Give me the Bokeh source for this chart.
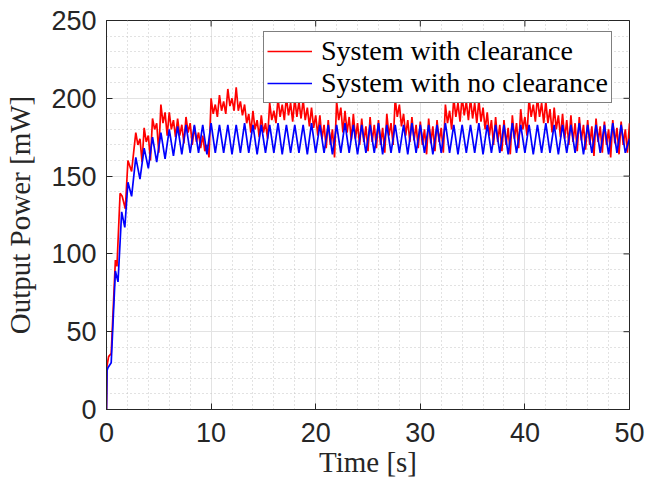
import numpy as np
from bokeh.plotting import figure
from bokeh.models import Range1d, Legend, LegendItem, FixedTicker
from bokeh.embed import file_html
from bokeh.resources import INLINE

# ---- data (output power in mW vs. time in s) ----
# start-up transient, irregular sample times
blue_t_early = [0.0, 0.05, 0.15, 0.45, 0.85, 1.1, 1.45, 1.75, 2.05, 2.4]
blue_v_early = [0, 25, 27, 30, 89, 82, 127, 117, 146, 137]

red_t_early = [0.0, 0.05, 0.2, 0.45, 0.85, 1.0, 1.3, 1.5, 1.8, 2.05, 2.4]
red_v_early = [0, 28, 34, 36, 96, 92, 139, 137, 129, 160, 153]

# system with no clearance: extrema sampled every 0.4 s from t = 2.8 s
blue_step = 0.4
blue_osc = [
    162, 148, 168, 155, 175, 159, 178, 161, 180, 163, 182, 164, 183, 165,
    183, 165, 183, 164, 184, 165, 183, 165, 183, 164, 183, 165, 184, 165, 183, 164, 183, 165, 183, 165,
    184, 164, 183, 165, 183, 165, 183, 164, 184, 165, 183, 165, 183, 164, 183, 165, 184, 165, 183, 164,
    183, 165, 183, 165, 184, 164, 183, 165, 183, 165, 183, 164, 184, 165, 183, 165, 183, 164, 183, 165,
    184, 165, 183, 164, 183, 165, 183, 165, 184, 164, 183, 165, 183, 165, 183, 164, 184, 165, 183, 165,
    183, 164, 183, 165, 184, 165, 183, 164, 183, 165, 183, 165, 184, 164, 183, 165, 183, 165, 183, 164,
    184, 165, 183, 165, 174,
]

# system with clearance: samples every 0.2 s from t = 2.8 s
red_step = 0.2
red_osc = [
    178, 170, 174, 159, 181, 172, 176, 160, 187, 180, 184, 165, 196, 184, 191, 176,
    191, 180, 186, 175, 187, 176, 183, 171, 188, 178, 184, 170, 182, 172, 178, 168,
    176, 166, 170, 162, 200, 190, 196, 188, 202, 192, 198, 190, 206, 195, 200, 192,
    207, 192, 198, 189, 196, 184, 190, 178, 192, 180, 186, 175, 189, 178, 184, 174,
    197, 186, 192, 184, 200, 188, 196, 186, 201, 189, 197, 185, 200, 188, 198, 187,
    199, 186, 194, 182, 194, 181, 189, 176, 189, 174, 183, 168, 186, 170, 180, 162,
    198, 186, 194, 178, 192, 178, 188, 173, 190, 174, 184, 170, 187, 172, 182, 166,
    188, 172, 183, 168, 186, 170, 181, 165, 190, 176, 184, 170, 200, 188, 196, 182,
    190, 176, 186, 172, 188, 173, 183, 168, 185, 170, 180, 164, 187, 171, 182, 166,
    186, 172, 181, 165, 196, 184, 192, 180, 200, 188, 197, 185, 201, 189, 198, 186,
    200, 187, 197, 184, 199, 185, 194, 180, 191, 176, 186, 170, 188, 172, 183, 166,
    186, 170, 181, 164, 189, 174, 184, 168, 193, 180, 188, 176, 200, 188, 196, 185,
    201, 188, 197, 184, 198, 184, 193, 178, 194, 180, 189, 175, 190, 174, 186, 170,
    189, 172, 184, 166, 188, 173, 183, 167, 186, 170, 182, 163, 187, 172, 182, 165,
    185, 170, 180, 162, 186, 171, 181, 164, 185, 170, 180, 165,
    184,
]

x_ticks = [0, 10, 20, 30, 40, 50]
y_ticks = [0, 50, 100, 150, 200, 250]
x_minor = [v for v in range(0, 51, 2)]
y_minor = [v for v in range(0, 251, 10)]

osc_start = 2.8
blue_t = blue_t_early + [osc_start + blue_step * i for i in range(len(blue_osc))]
blue_v = blue_v_early + blue_osc
red_t = red_t_early + [osc_start + red_step * i for i in range(len(red_osc))]
red_v = red_v_early + red_osc

INK = "#262626"
TICK_FONT = "Liberation Sans"
LABEL_FONT = "Liberation Serif"

x_lo, x_hi = x_ticks[0], x_ticks[-1]
y_lo, y_hi = y_ticks[0], y_ticks[-1]

p = figure(
    width=645, height=489,
    x_range=Range1d(x_lo, x_hi), y_range=Range1d(y_lo, y_hi),
    output_backend="svg", toolbar_location=None,
    min_border_left=106, min_border_right=16,
    min_border_top=20, min_border_bottom=80,
    x_axis_label="Time [s]", y_axis_label="Output Power [mW]",
)
p.background_fill_color = "white"
p.border_fill_color = "white"
p.outline_line_color = INK
p.outline_line_width = 1

xt = FixedTicker(ticks=x_ticks, minor_ticks=x_minor)
yt = FixedTicker(ticks=y_ticks, minor_ticks=y_minor)
p.xaxis.ticker = xt
p.yaxis.ticker = yt

for ax in (p.xaxis[0], p.yaxis[0]):
    ax.axis_line_color = INK
    ax.major_tick_line_color = INK
    ax.major_tick_in = 6
    ax.major_tick_out = 0
    ax.minor_tick_in = 0
    ax.minor_tick_out = 0
    ax.major_label_text_font = TICK_FONT
    ax.major_label_text_font_size = "27px"
    ax.major_label_text_color = INK
    ax.axis_label_text_font = LABEL_FONT
    ax.axis_label_text_font_size = "29px"
    ax.axis_label_text_font_style = "normal"
    ax.axis_label_text_color = INK

p.xaxis.major_label_standoff = 13
p.xaxis.axis_label_standoff = 1
p.yaxis.major_label_standoff = 10
p.yaxis.axis_label_standoff = 12

# grids: light solid major lines, dotted minor lines
for g in (p.xgrid[0], p.ygrid[0]):
    g.grid_line_color = "#e3e3e3"
    g.grid_line_width = 1
    g.minor_grid_line_color = "#c4c4c4"
    g.minor_grid_line_dash = "1 3"
    g.minor_grid_line_width = 1

r_red = p.line(red_t, red_v, line_color="#ff0000", line_width=1.7)
r_blue = p.line(blue_t, blue_v, line_color="#0000ff", line_width=1.7)

# inward tick marks on the top and right edges of the box
p.scatter(x=x_ticks, y=[y_hi] * len(x_ticks), marker="dash", size=12,
          angle=np.pi / 2, line_color=INK, line_width=1)
p.scatter(x=[x_hi] * len(y_ticks), y=y_ticks, marker="dash", size=12,
          line_color=INK, line_width=1)

legend = Legend(
    items=[
        LegendItem(label="System with clearance", renderers=[r_red]),
        LegendItem(label="System with no clearance", renderers=[r_blue]),
    ],
    location=(157, 306),
    margin=0,
    padding=3,
    spacing=0,
    glyph_width=45,
    glyph_height=30,
    label_height=30,
    label_standoff=9,
    label_text_font=LABEL_FONT,
    label_text_font_size="28px",
    label_text_color="black",
    border_line_color="black",
    border_line_width=1,
    background_fill_color="white",
    background_fill_alpha=1.0,
)
p.add_layout(legend)

open("out.html", "w").write(file_html(p, INLINE))
